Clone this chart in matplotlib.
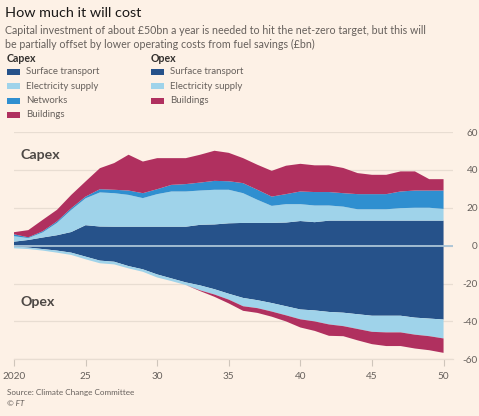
import numpy as np
import matplotlib
matplotlib.use("Agg")
import matplotlib.pyplot as plt
from matplotlib.patches import Rectangle

# --- Données (Mds £) ---
years = list(range(2020, 2051))

capex_surface = [2.1, 3.0, 4.3, 5.5, 7.2, 10.8, 10.1, 10.0, 10.0, 10.0, 10.0, 10.0, 10.0, 11.0, 11.2, 11.8,
                 12.0, 12.0, 12.0, 12.2, 13.0, 12.4, 13.2, 13.2, 13.2, 13.2, 13.2, 13.2, 13.2, 13.2, 13.2]
capex_electricity = [2.9, 1.0, 2.7, 6.5, 11.7, 14.2, 18.0, 17.7, 16.8, 15.1, 17.2, 18.6, 18.6, 18.1, 18.3, 17.7,
                     15.7, 12.2, 9.0, 9.7, 8.9, 8.8, 8.0, 7.4, 6.0, 6.0, 6.0, 6.6, 6.8, 6.8, 6.2]
capex_networks = [1.0, 0.4, 0.6, 0.8, 0.9, 0.9, 1.7, 1.8, 2.3, 2.6, 2.6, 3.5, 3.9, 4.2, 4.7, 4.5,
                  5.3, 5.3, 4.9, 5.3, 6.7, 7.1, 7.1, 7.1, 8.0, 8.0, 8.0, 8.8, 9.1, 9.1, 9.7]
capex_buildings = [1.1, 3.8, 6.0, 6.1, 7.0, 8.0, 11.1, 14.1, 18.9, 16.7, 16.4, 14.1, 13.7, 14.7, 15.9, 15.0,
                   13.2, 13.2, 13.6, 15.0, 14.6, 14.1, 14.1, 13.3, 11.1, 10.2, 10.2, 10.6, 10.1, 6.0, 6.0]

opex_surface = [-0.5, -1.0, -1.8, -2.6, -3.7, -5.8, -7.9, -8.5, -10.8, -12.5, -15.2, -17.3, -19.4, -21.0, -23.0, -25.4,
                -27.6, -28.8, -30.3, -32.0, -33.7, -34.2, -35.0, -35.4, -36.2, -37.0, -37.0, -37.0, -38.0, -38.5, -39.0]
opex_electricity = [-0.9, -0.8, -0.8, -1.1, -1.2, -1.4, -1.4, -1.4, -1.2, -1.3, -1.6, -1.4, -1.4, -2.6, -2.8, -3.1,
                    -4.4, -4.2, -4.5, -4.8, -5.2, -5.8, -6.6, -7.1, -7.8, -8.5, -8.8, -8.8, -9.0, -9.3, -10.0]
opex_buildings = [0, 0, 0, 0, 0, 0, 0, 0, 0, 0, 0, 0, 0, -0.4, -1.2, -2.0,
                  -2.4, -2.5, -2.7, -3.2, -4.3, -5.0, -6.0, -5.3, -6.0, -6.5, -7.2, -7.2, -7.3, -7.4, -7.6]

# --- Couleurs style FT ---
BG = "#fdf1e6"
DARK = "#26528a"
LIGHT = "#9fd3ea"
MID = "#2f8fd0"
CRIMSON = "#b0305f"
GRID = "#e8ddd2"
TXT = "#66605c"

plt.rcParams['font.family'] = ['Lato', 'DejaVu Sans']

W, H = 479, 416
fig = plt.figure(figsize=(W / 100, H / 100), dpi=100, facecolor=BG)

def px(x, y):
    # coordonnées pixel (origine en haut à gauche) -> fraction de figure
    return x / W, 1 - y / H

# --- Titre et sous-titre ---
fig.text(*px(5, 13), "How much it will cost", fontsize=10.4, color="#1a1817", va="center")
fig.text(*px(5, 30), "Capital investment of about £50bn a year is needed to hit the net-zero target, but this will",
         fontsize=7.65, color=TXT, va="center")
fig.text(*px(5, 44), "be partially offset by lower operating costs from fuel savings (£bn)",
         fontsize=7.65, color=TXT, va="center")

# --- Légende manuelle ---
def legend_block(x0, header, items):
    fig.text(*px(x0, 59), header, fontsize=7.6, color="#33302e", fontweight="bold", va="center")
    for i, (lab, col) in enumerate(items):
        yc = 72 + i * 14.3
        fx, fy = px(x0, yc + 3)
        fig.patches.append(Rectangle((fx, fy), 13 / W, 6 / H, transform=fig.transFigure,
                                     facecolor=col, edgecolor="none"))
        fig.text(*px(x0 + 19, yc), lab, fontsize=6.9, color=TXT, va="center")

legend_block(7, "Capex", [("Surface transport", DARK), ("Electricity supply", LIGHT),
                          ("Networks", MID), ("Buildings", CRIMSON)])
legend_block(151, "Opex", [("Surface transport", DARK), ("Electricity supply", LIGHT),
                           ("Buildings", CRIMSON)])

# --- Zone du graphique ---
left, top = px(14, 132)
right, bottom = px(453, 359.3)
ax = fig.add_axes([left, bottom, right - left, top - bottom])
ax.set_facecolor(BG)

ax.stackplot(years, capex_surface, capex_electricity, capex_networks, capex_buildings,
             colors=[DARK, LIGHT, MID, CRIMSON], linewidth=0, zorder=2)
ax.stackplot(years, opex_surface, opex_electricity, opex_buildings,
             colors=[DARK, LIGHT, CRIMSON], linewidth=0, zorder=2)

ax.axhline(0, color="#a9c3d6", linewidth=1.3, zorder=3)

ax.set_xlim(2020, 2050.66)
ax.set_ylim(-60, 60)

ax.set_yticks([-60, -40, -20, 0, 20, 40, 60])
ax.set_yticklabels(["-60", "-40", "-20", "0", "20", "40", "60"])
ax.yaxis.tick_right()
ax.tick_params(axis="y", length=0, pad=18, labelsize=7.2, labelcolor=TXT)
for lab in ax.get_yticklabels():
    lab.set_horizontalalignment("right")
ax.grid(axis="y", color=GRID, linewidth=0.9, zorder=0)

ax.set_xticks([2020, 2025, 2030, 2035, 2040, 2045, 2050])
ax.set_xticklabels(["2020", "25", "30", "35", "40", "45", "50"])
ax.tick_params(axis="x", length=5, width=0.8, color="#cfc5bb", pad=4, labelsize=7.2, labelcolor=TXT)

for s in ["top", "left", "right"]:
    ax.spines[s].set_visible(False)
ax.spines["bottom"].set_color(GRID)
ax.spines["bottom"].set_linewidth(0.9)

ax.text(2020.45, 48, "Capex", fontsize=10.2, color="#4d4845", fontweight="bold", va="center")
ax.text(2020.45, -30, "Opex", fontsize=10.2, color="#4d4845", fontweight="bold", va="center")

# --- Source ---
fig.text(*px(7, 392), "Source: Climate Change Committee", fontsize=5.9, color=TXT, va="center")
fig.text(*px(7, 403), "© FT", fontsize=5.9, color=TXT, va="center", style="italic")

fig.savefig("out.png", dpi=100, facecolor=BG)
